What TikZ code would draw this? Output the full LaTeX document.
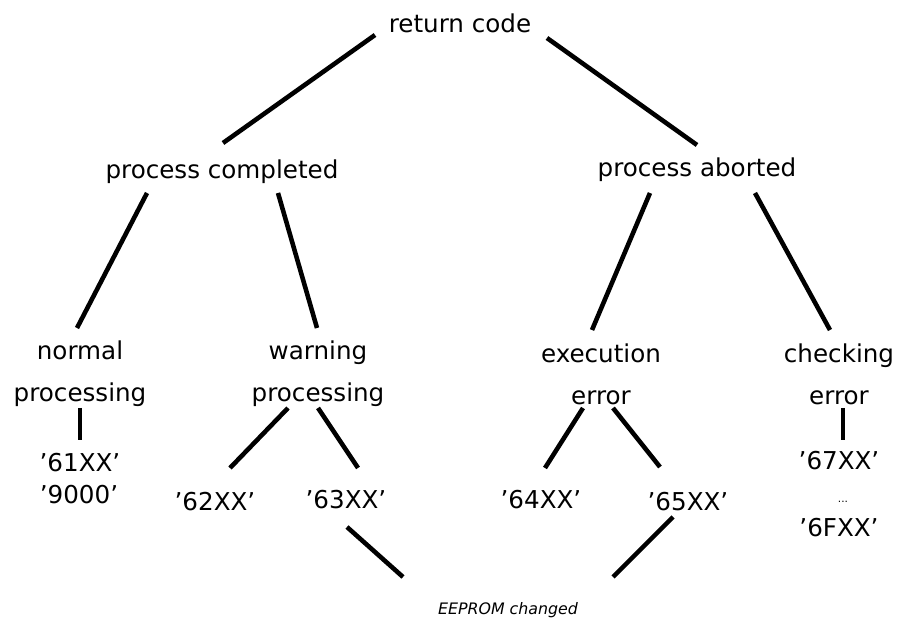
\documentclass[tikz,border=0pt]{standalone}
\usepackage{fontspec}
\setmainfont{DejaVu Sans}
\usepackage{tikz}

\begin{document}
\begin{tikzpicture}[
		tree_node/.style={inner sep=1pt,align=center,font=\fontsize{14}{24}\selectfont},
		code_node/.style={inner sep=1pt,font=\fontsize{14}{17}\selectfont},
		note_node/.style={inner sep=1pt,font=\fontsize{9}{11}\selectfont\itshape},
		edge_style/.style={draw=black,line width=2.6pt}]

		\useasboundingbox (0,0) rectangle (18,12.44);

		% tree levels
		\node[tree_node] (ret) at (9.2,11.98) {return code};
		\node[tree_node] (done) at (4.44,9.0) {process completed};
		\node[tree_node] (abort) at (13.94,9.04) {process aborted};
		\node[tree_node] (normal) at (1.6,4.96) {normal\\processing};
		\node[tree_node] (warning) at (6.36,4.96) {warning\\processing};
		\node[tree_node] (exec) at (12.02,4.96) {execution\\error};
		\node[tree_node] (check) at (16.78,4.96) {checking\\error};

		% return codes
		\node[code_node] (c61) at (1.6,3.18) {'61XX'};
		\node[code_node] (c90) at (1.58,2.54) {'9000'};
		\node[code_node] (c62) at (4.3,2.4) {'62XX'};
		\node[code_node] (c63) at (6.92,2.44) {'63XX'};
		\node[code_node] (c64) at (10.82,2.44) {'64XX'};
		\node[code_node] (c65) at (13.76,2.4) {'65XX'};
		\node[code_node] (c67) at (16.78,3.22) {'67XX'};
		\node[inner sep=1pt,font=\fontsize{6}{7}\selectfont] (dots) at (16.86,2.4) {...};
		\node[code_node] (c6F) at (16.78,1.88) {'6FXX'};
		\node[note_node] (eep) at (10.16,0.24) {EEPROM changed};

		\draw[edge_style] ([shift={(-1.7,-.24)}]ret.center) -- ([shift={(.02,.58)}]done.center);
		\draw[edge_style] ([shift={(1.74,-.3)}]ret.center) -- ([shift={(0,.5)}]abort.center);
		\draw[edge_style] ([shift={(-1.5,-.42)}]done.center) -- ([shift={(-.06,.92)}]normal.center);
		\draw[edge_style] ([shift={(1.12,-.42)}]done.center) -- ([shift={(-.02,.92)}]warning.center);
		\draw[edge_style] ([shift={(-.94,-.46)}]abort.center) -- ([shift={(-.18,.88)}]exec.center);
		\draw[edge_style] ([shift={(1.16,-.46)}]abort.center) -- ([shift={(-.18,.88)}]check.center);
		\draw[edge_style] ([shift={(0,-.68)}]normal.center) -- ([shift={(0,.46)}]c61.center);
		\draw[edge_style] ([shift={(-.6,-.68)}]warning.center) -- ([shift={(.3,.68)}]c62.center);
		\draw[edge_style] ([shift={(0,-.68)}]warning.center) -- ([shift={(.24,.64)}]c63.center);
		\draw[edge_style] ([shift={(-.36,-.68)}]exec.center) -- ([shift={(.08,.64)}]c64.center);
		\draw[edge_style] ([shift={(.24,-.68)}]exec.center) -- ([shift={(-.56,.7)}]c65.center);
		\draw[edge_style] ([shift={(.08,-.68)}]check.center) -- ([shift={(.08,.42)}]c67.center);
		\draw[edge_style] ([shift={(.02,-.54)}]c63.center) -- ([shift={(-2.1,.66)}]eep.center);
		\draw[edge_style] ([shift={(-.3,-.3)}]c65.center) -- ([shift={(2.1,.66)}]eep.center);

		\end{tikzpicture}
\end{document}
